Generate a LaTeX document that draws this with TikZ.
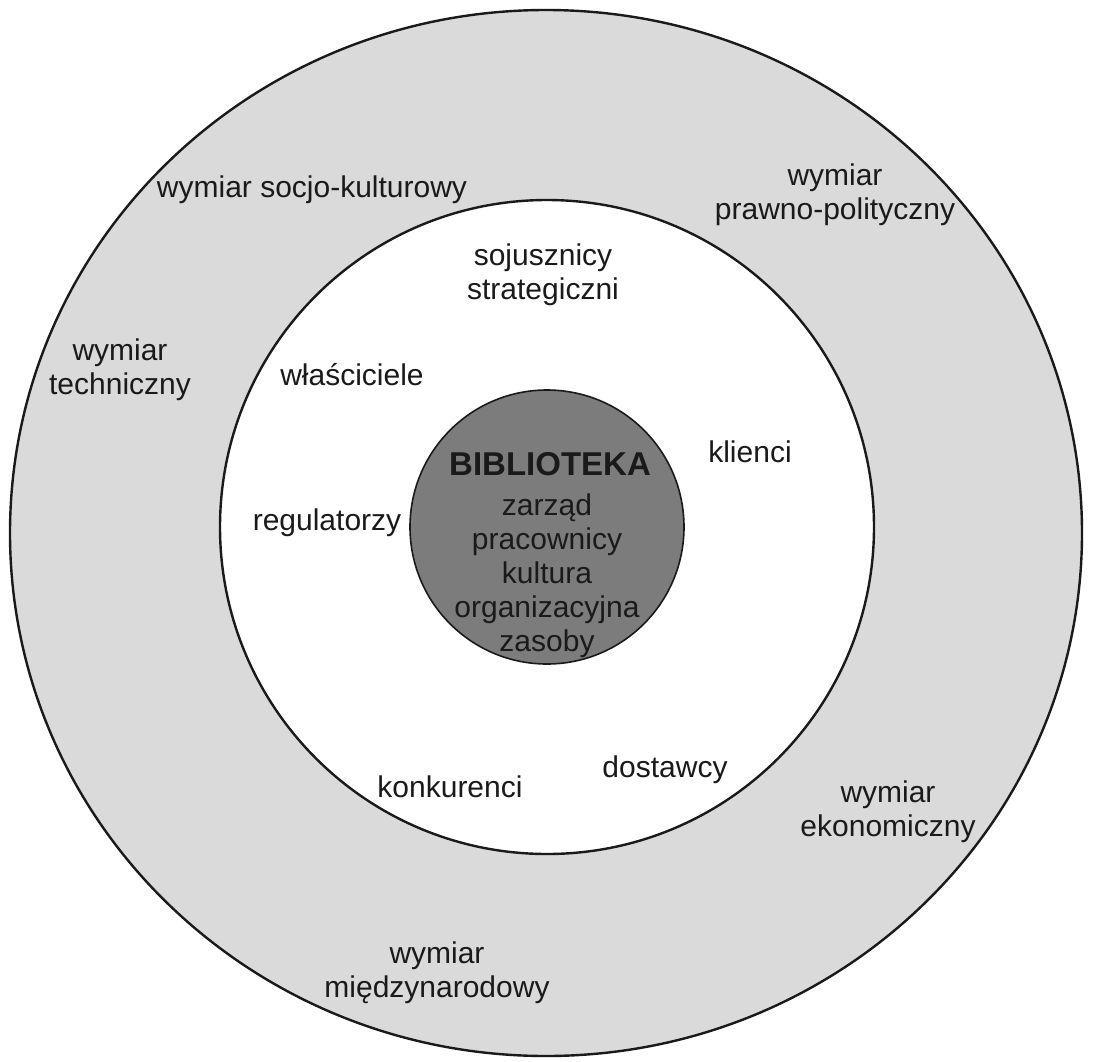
\documentclass[tikz,border=0pt]{standalone}
\usepackage{fontspec}
\setmainfont{Liberation Sans}
\definecolor{ringgray}{HTML}{DADADA}
\definecolor{coregray}{HTML}{7C7C7C}
\definecolor{inkc}{HTML}{1A1A1A}
\begin{document}
\begin{tikzpicture}[x=0.5pt,y=-0.5pt,
  lbl/.style={font=\fontsize{15}{17.2}\selectfont, align=center, inner sep=0pt, text=inkc},
  corelbl/.style={font=\fontsize{15}{17}\selectfont, align=center, inner sep=0pt, text=inkc},
  ring/.style={draw=inkc, line width=1.2pt}]
\useasboundingbox (0,0) rectangle (1093,1061);
\fill[white] (0,0) rectangle (1093,1061);
% circles
\filldraw[ring, fill=ringgray] (546,533) ellipse [x radius=536, y radius=523];
\filldraw[ring, fill=white] (547,527) circle [radius=327];
\filldraw[ring, line width=0.8pt, fill=coregray] (547,527) circle [radius=137];
% outer ring labels
\node[lbl] (socio) at (312,190) {wymiar socjo-kulturowy};
\node[lbl] (prawno) at (835,195) {wymiar\\prawno-polityczny};
\node[lbl] (tech) at (120,370) {wymiar\\techniczny};
\node[lbl] (ekon) at (888,812) {wymiar\\ekonomiczny};
\node[lbl] (miedzy) at (437,973) {wymiar\\międzynarodowy};
% middle ring labels
\node[lbl] (sojusz) at (543,275) {sojusznicy\\strategiczni};
\node[lbl] (wlasc) at (352,375) {właściciele};
\node[lbl] (klienci) at (750,452) {klienci};
\node[lbl] (regul) at (327,523) {regulatorzy};
\node[lbl] (konk) at (450,787) {konkurenci};
\node[lbl] (dostaw) at (665,770) {dostawcy};
% core
\node[corelbl, font=\fontsize{16.5}{18}\selectfont\bfseries] (bib) at (550,464) {BIBLIOTEKA};
\node[corelbl, anchor=north] (core) at (547,493) {zarząd\\pracownicy\\kultura\\organizacyjna\\zasoby};
\end{tikzpicture}
\end{document}
